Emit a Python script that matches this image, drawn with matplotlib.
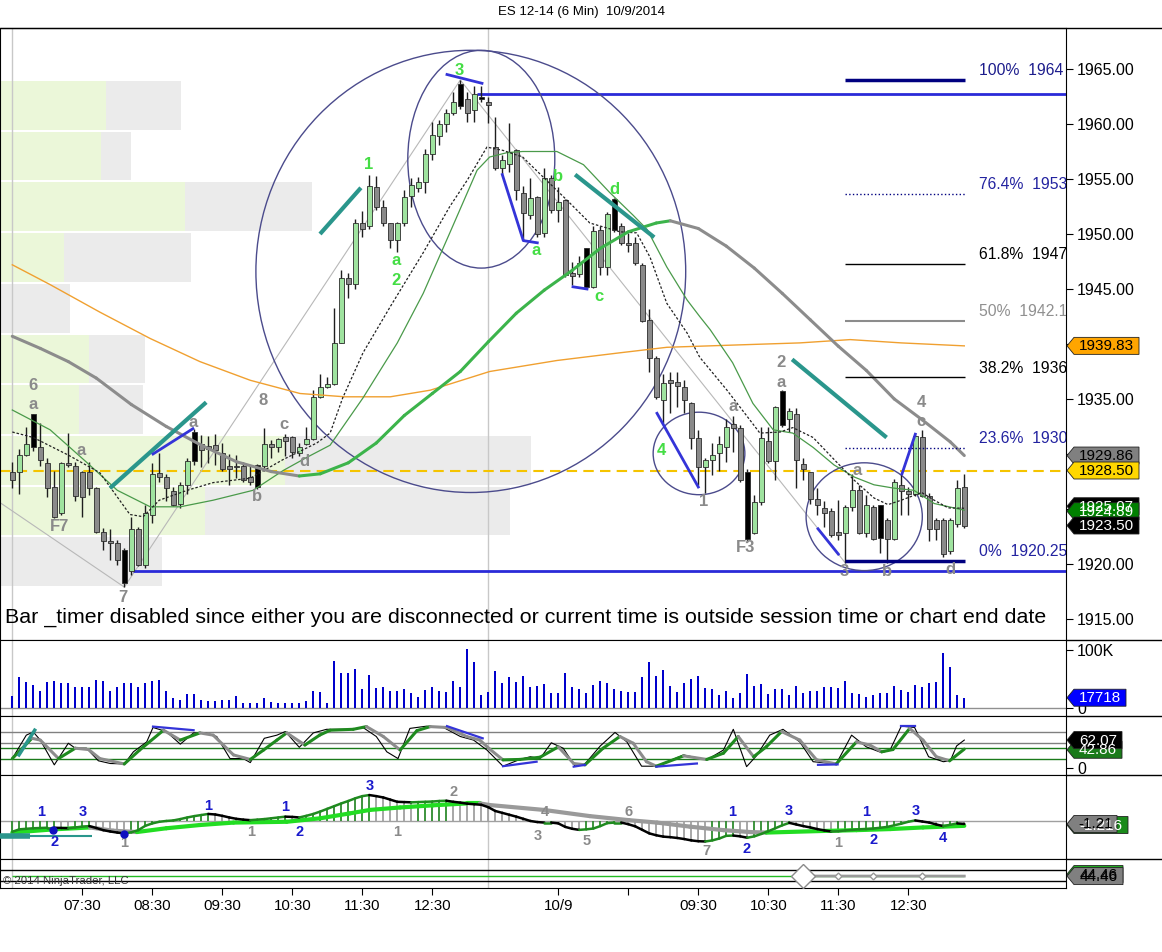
import numpy as np
import matplotlib
matplotlib.use('Agg')
import matplotlib.pyplot as plt
from matplotlib.patches import Ellipse, Polygon
from matplotlib.collections import LineCollection

plt.rcParams['font.family'] = ['Liberation Sans', 'DejaVu Sans']

# ---- price bars (6 min, bar index 0..136) ----
opens = [1928.4, 1928.4, 1929.9, 1933.6, 1930.6, 1929.2, 1927.0, 1924.6, 1929.2, 1928.9,
         1928.4, 1928.4, 1926.9, 1922.9, 1922.1, 1921.9, 1921.3, 1919.4, 1923.2, 1919.9,
         1924.5, 1928.3, 1927.9, 1926.6, 1925.5, 1927.2, 1929.4, 1930.9, 1930.7, 1930.8,
         1930.1, 1928.9, 1928.85, 1928.9, 1927.9, 1929.0, 1928.9, 1930.9, 1930.6, 1931.5,
         1931.5, 1930.1, 1930.9, 1931.4, 1935.2, 1936.1, 1936.4, 1940.1, 1946.0, 1945.5,
         1951.0, 1950.7, 1954.3, 1952.5, 1951.0, 1949.5, 1951.0, 1953.5, 1954.2, 1954.7,
         1957.3, 1958.9, 1960.0, 1961.0, 1961.6, 1962.3, 1961.3, 1962.5, 1962.0, 1957.9,
         1956.0, 1956.4, 1957.6, 1953.7, 1951.7, 1953.4, 1950.1, 1955.1, 1952.2, 1953.1,
         1946.5, 1946.4, 1948.7, 1945.2, 1950.4, 1947.0, 1950.4, 1950.7, 1949.2, 1949.2,
         1947.2, 1942.2, 1938.7, 1934.9, 1936.7, 1936.5, 1936.1, 1934.6, 1931.5, 1928.8,
         1929.5, 1930.1, 1930.6, 1932.7, 1932.4, 1928.4, 1922.8, 1925.6, 1931.2, 1929.4,
         1932.6, 1933.2, 1933.6, 1929.1, 1928.4, 1925.9, 1925.1, 1924.8, 1922.9, 1922.8,
         1925.2, 1926.7, 1922.8, 1925.2, 1925.4, 1924.0, 1922.3, 1927.2, 1926.6, 1926.4,
         1931.5, 1926.2, 1924.0, 1924.0, 1921.2, 1923.6, 1927.0]
highs = [1929.3, 1930.5, 1932.5, 1933.6, 1932.8, 1929.6, 1928.5, 1929.3, 1931.9, 1929.3,
         1928.5, 1929.3, 1927.0, 1923.3, 1923.2, 1922.2, 1921.5, 1924.3, 1923.4, 1925.4,
         1929.2, 1930.1, 1928.2, 1927.0, 1927.5, 1929.6, 1932.3, 1931.7, 1931.6, 1931.8,
         1931.0, 1930.0, 1929.9, 1929.3, 1929.0, 1929.1, 1932.4, 1931.3, 1931.5, 1931.8,
         1931.6, 1931.0, 1932.5, 1935.8, 1937.3, 1937.0, 1943.3, 1946.7, 1946.5, 1951.4,
         1952.1, 1955.4, 1955.3, 1953.1, 1951.0, 1951.1, 1954.0, 1955.1, 1955.2, 1957.7,
         1960.2, 1960.4, 1961.4, 1962.9, 1964.0, 1962.9, 1963.5, 1963.5, 1962.5, 1960.6,
         1957.2, 1960.1, 1957.7, 1954.4, 1955.1, 1953.5, 1956.0, 1955.4, 1954.3, 1953.2,
         1947.5, 1948.0, 1948.7, 1950.7, 1950.7, 1952.0, 1953.3, 1951.0, 1950.1, 1949.7,
         1947.4, 1943.2, 1938.9, 1937.3, 1937.5, 1937.5, 1936.7, 1934.7, 1932.2, 1929.6,
         1931.0, 1931.6, 1933.2, 1933.5, 1932.6, 1928.6, 1926.3, 1932.5, 1932.5, 1934.4,
         1935.8, 1934.2, 1934.2, 1929.6, 1928.4, 1926.9, 1925.7, 1925.1, 1925.8, 1925.4,
         1928.2, 1927.2, 1926.3, 1925.4, 1925.4, 1924.2, 1927.7, 1928.1, 1927.0, 1931.8,
         1932.2, 1926.5, 1924.2, 1924.2, 1924.2, 1927.6, 1928.2]
lows = [1926.9, 1926.4, 1929.8, 1930.3, 1928.9, 1926.1, 1924.2, 1924.5, 1928.8, 1925.7,
        1924.3, 1926.3, 1922.8, 1921.3, 1920.4, 1919.9, 1917.9, 1919.0, 1919.8, 1919.6,
        1923.7, 1927.5, 1925.7, 1925.3, 1925.1, 1926.4, 1929.0, 1928.8, 1929.2, 1929.0,
        1928.5, 1927.2, 1927.8, 1927.5, 1927.2, 1926.8, 1928.5, 1929.6, 1930.2, 1929.8,
        1929.6, 1929.8, 1930.8, 1931.3, 1935.1, 1936.0, 1936.3, 1940.1, 1944.2, 1945.0,
        1949.7, 1950.5, 1952.2, 1950.7, 1948.7, 1948.4, 1950.7, 1952.5, 1953.8, 1953.7,
        1956.7, 1958.1, 1959.3, 1960.8, 1961.4, 1960.2, 1960.2, 1962.0, 1960.1, 1955.8,
        1955.5, 1955.6, 1953.1, 1949.5, 1951.4, 1949.7, 1949.7, 1951.9, 1951.1, 1946.1,
        1945.4, 1946.1, 1945.0, 1945.1, 1946.3, 1946.3, 1950.2, 1949.0, 1948.4, 1947.2,
        1942.0, 1937.5, 1935.0, 1932.8, 1933.7, 1934.3, 1933.7, 1930.5, 1927.2, 1926.5,
        1928.1, 1928.5, 1929.3, 1930.2, 1927.5, 1922.0, 1922.7, 1925.4, 1929.2, 1927.6,
        1932.5, 1932.0, 1926.9, 1927.6, 1925.5, 1924.5, 1923.4, 1922.5, 1922.2, 1920.1,
        1924.8, 1922.7, 1922.5, 1922.2, 1921.0, 1920.1, 1922.2, 1924.5, 1924.5, 1926.2,
        1926.1, 1922.1, 1922.2, 1920.6, 1920.9, 1923.4, 1923.3]
closes = [1927.6, 1929.9, 1930.9, 1930.6, 1929.5, 1926.9, 1924.3, 1929.2, 1929.0, 1926.2,
          1926.1, 1926.9, 1922.9, 1922.1, 1921.9, 1920.4, 1918.3, 1923.2, 1919.9, 1924.6,
          1928.2, 1927.9, 1926.9, 1925.4, 1927.2, 1929.4, 1932.0, 1930.4, 1930.5, 1930.4,
          1928.6, 1928.6, 1928.8, 1927.6, 1927.5, 1927.0, 1930.9, 1930.6, 1931.4, 1931.2,
          1930.2, 1930.6, 1931.4, 1935.2, 1936.1, 1936.4, 1940.1, 1946.0, 1945.5, 1951.0,
          1950.5, 1954.4, 1952.5, 1951.0, 1949.5, 1951.0, 1953.4, 1954.5, 1954.7, 1957.3,
          1959.0, 1960.0, 1961.0, 1962.0, 1963.6, 1961.0, 1962.7, 1962.3, 1961.7, 1956.0,
          1956.7, 1957.5, 1954.0, 1951.9, 1953.3, 1950.0, 1955.1, 1952.2, 1952.9, 1946.3,
          1946.2, 1947.4, 1945.2, 1950.3, 1947.0, 1951.8, 1953.2, 1949.2, 1949.0, 1947.4,
          1942.1, 1938.7, 1935.2, 1936.5, 1936.5, 1936.2, 1934.9, 1931.5, 1928.8, 1929.5,
          1929.9, 1930.9, 1932.5, 1932.4, 1927.6, 1922.3, 1925.6, 1931.5, 1929.4, 1934.3,
          1935.7, 1933.9, 1929.5, 1928.6, 1925.9, 1925.4, 1924.6, 1922.6, 1922.6, 1925.2,
          1926.7, 1922.8, 1925.4, 1922.3, 1922.4, 1922.3, 1927.5, 1926.6, 1926.4, 1931.6,
          1926.2, 1923.2, 1923.2, 1920.9, 1924.0, 1926.9, 1923.5]
black_bars = [3, 16, 26, 35, 64, 67, 82, 86, 105, 110, 124]

volume_k = [21.3, 52.9, 45.4, 40.3, 29.9, 45.4, 47.2, 42.6, 42.6, 35.7,
            35.7, 36.8, 48.3, 47.2, 28.8, 35.7, 43.1, 43.1, 36.8, 42.6,
            47.2, 48.3, 29.9, 17.3, 13.8, 24.2, 24.2, 13.8, 12.7, 12.7,
            13.8, 13.8, 21.3, 8.1, 8.1, 8.1, 17.3, 9.8, 8.1, 8.1,
            8.1, 8.1, 12.7, 29.9, 27.0, 8.1, 81.7, 60.4, 60.4, 67.3,
            32.8, 57.5, 33.9, 35.7, 29.9, 29.9, 32.8, 25.3, 19.6, 31.1,
            36.8, 29.9, 27.0, 47.2, 36.8, 101.8, 79.9, 23.0, 28.2, 64.4,
            42.6, 54.1, 45.4, 55.8, 36.8, 38.5, 41.4, 25.9, 25.9, 60.4,
            36.8, 32.8, 25.9, 39.7, 47.2, 42.6, 32.8, 29.9, 27.0, 28.2,
            54.1, 79.9, 55.8, 65.6, 38.5, 28.2, 42.6, 50.0, 55.8, 34.5,
            32.8, 23.0, 29.9, 17.3, 25.9, 58.7, 38.5, 41.4, 24.2, 32.8,
            32.8, 23.0, 38.5, 25.9, 29.9, 29.9, 35.7, 35.7, 34.5, 47.2,
            25.9, 24.2, 19.6, 22.4, 25.9, 25.9, 38.5, 31.1, 27.0, 40.3,
            36.8, 42.6, 44.3, 94.3, 71.3, 23.0, 17.7]

macd = [-4.1, -3.2, -3.0, -2.8, -2.7, -2.6, -2.6, -2.7, -2.8, -2.5,
        -2.2, -2.0, -2.7, -3.5, -4.0, -4.4, -4.7, -4.3, -3.5, -1.9,
        -1.0, -0.4, -0.1, 0.1, 0.6, 1.2, 1.7, 2.1, 2.5, 2.3,
        1.8, 1.2, 0.7, 0.4, 0.2, 0.4, 0.6, 0.9, 1.2, 1.5,
        1.4, 1.2, 1.8, 2.5, 3.4, 4.4, 5.4, 6.4, 7.3, 8.3,
        9.1, 9.5, 9.1, 8.6, 7.8, 7.0, 6.9, 6.8, 6.9, 7.0,
        7.1, 7.3, 7.4, 7.0, 6.7, 6.3, 6.1, 5.9, 5.0, 3.6,
        2.9, 2.2, 1.5, 0.7, -0.1, -0.5, -0.7, -0.7, -1.0, -2.3,
        -3.0, -3.4, -3.2, -2.9, -2.0, -0.9, -0.7, -0.7, -1.3, -2.1,
        -3.4, -4.7, -5.4, -5.9, -6.1, -6.4, -6.8, -7.3, -7.6, -7.7,
        -7.3, -6.6, -5.6, -5.5, -5.8, -6.3, -5.8, -4.9, -3.9, -2.8,
        -1.7, -0.8, -1.4, -2.0, -2.5, -3.1, -3.6, -4.0, -3.9, -3.6,
        -3.4, -3.2, -3.1, -2.9, -2.6, -2.3, -1.7, -1.1, -0.4, 0.1,
        -0.3, -0.7, -1.4, -2.0, -1.5, -1.0, -1.21]

# ---- moving averages read at points (bar index, price) ----
ma_slow_thick = [(0, 1940.7), (4, 1939.6), (8, 1938.4), (12, 1936.9), (17, 1934.5), (22, 1932.5),
                 (27, 1930.8), (32, 1929.3), (37, 1928.4), (41, 1928.0), (44, 1928.2), (48, 1929.2),
                 (52, 1931.0), (56, 1933.5), (60, 1935.5), (64, 1937.5), (68, 1940.2), (72, 1942.8),
                 (76, 1944.9), (80, 1946.7), (84, 1948.7), (88, 1950.2), (92, 1951.0), (94, 1951.2),
                 (98, 1950.5), (102, 1948.9), (106, 1946.9), (110, 1944.6), (114, 1942.2),
                 (118, 1939.8), (122, 1937.6), (126, 1935.0), (130, 1933.1), (134, 1931.1), (136, 1929.86)]
ma_orange = [(0, 1947.2), (5.4, 1945.4), (12.5, 1942.9), (19.7, 1940.5), (26.8, 1938.4), (34, 1936.7),
             (41.1, 1935.5), (47.5, 1935.2), (54, 1935.2), (59.7, 1935.8), (68.2, 1937.5), (77.8, 1938.5),
             (86.8, 1939.2), (93.5, 1939.7), (102.9, 1939.9), (112.5, 1940.1), (119.7, 1940.4),
             (127, 1940.1), (136, 1939.83)]
ma_fast_dotted = [(0, 1932.0), (3, 1931.5), (8, 1929.9), (12.5, 1928.3), (16.8, 1924.5), (18.7, 1924.3),
                  (21, 1925.8), (25, 1926.7), (28.7, 1927.4), (34, 1927.8), (38.7, 1929.5), (43.5, 1931.0),
                  (45.4, 1931.9), (47.2, 1935.1), (50.1, 1939.2), (54, 1943.4), (58.7, 1948.3),
                  (62.5, 1952.5), (65, 1954.9), (67.8, 1957.9), (70.1, 1957.6), (72.9, 1957.0),
                  (75.8, 1955.2), (79.2, 1953.1), (82.5, 1951.0), (86.8, 1950.2), (89.2, 1950.1),
                  (91.1, 1947.9), (93.5, 1943.7), (96.4, 1941.0), (98.2, 1938.8), (102.1, 1935.8),
                  (105, 1933.4), (106.8, 1931.9), (109.7, 1932.0), (111.5, 1932.4), (114.4, 1931.5),
                  (117.4, 1929.5), (120.3, 1927.6), (123.1, 1926.0), (125.1, 1925.4), (127, 1925.8),
                  (129.9, 1926.5), (131.7, 1925.8), (133.7, 1925.1), (136, 1925.07)]
ma_fast_green = [(0, 1934.0), (5.4, 1932.2), (10.7, 1929.2), (15, 1926.7), (19.7, 1925.2), (24, 1925.2),
                 (28.7, 1925.8), (34.4, 1926.7), (38.7, 1928.5), (42.1, 1929.7), (45.4, 1930.8),
                 (50.1, 1935.1), (55, 1940.1), (58.7, 1944.6), (62.5, 1950.1), (66.4, 1955.8),
                 (68.2, 1957.0), (70.7, 1957.4), (72.9, 1957.5), (77.8, 1957.5), (81.6, 1956.3),
                 (85.3, 1953.8), (88.7, 1951.7), (90.7, 1950.4), (93.5, 1947.0), (96.4, 1944.0),
                 (98.2, 1942.5), (99.7, 1941.3), (102.9, 1938.3), (105.8, 1934.6), (108.7, 1932.2),
                 (111.5, 1931.9), (114.4, 1930.6), (117.4, 1929.0), (120.3, 1927.9), (123.1, 1927.2),
                 (125.9, 1926.9), (128.8, 1926.7), (131.7, 1925.5), (136, 1924.89)]
zigzag = [(-1.8, 1925.6), (16, 1917.9), (64, 1964.0), (119, 1920.1)]

# volume profile rows (top row first), widths in K contracts
profile_high, profile_low = 1964.0, 1917.9
profile_up = [106, 101, 185, 64, 0, 89, 79, 285, 205, 0]
profile_down = [75, 30, 127, 127, 70, 56, 64, 246, 305, 162]

# fib retracement
fib_high, fib_low = 1964.0, 1920.25
fib_ratios = [1.0, 0.764, 0.618, 0.5, 0.382, 0.236, 0.0]
fib_start, fib_end = 119, 136.1
prior_high, prior_low = 1962.75, 1919.4
prior_high_from, prior_low_from = 66.4, 17.2
pivot_level = 1928.5

# drawn circles: center bar, center price, width (bars), height (points)
circles = [(65.5, 1946.6, 61.4, 40.2), (67.0, 1956.8, 21.0, 19.8),
           (98.1, 1930.05, 13.1, 7.5), (121.7, 1924.3, 16.6, 9.8)]
teal_lines = [((13.96, 1926.9), (27.7, 1934.7)), ((43.96, 1950.0), (49.8, 1954.2)),
              ((80.4, 1955.4), (91.7, 1949.7)), ((111.4, 1938.6), (124.9, 1931.5))]
blue_lines = [[(20.1, 1930.0), (25.8, 1932.3)], [(62.1, 1964.5), (67.1, 1963.7)],
              [(70.0, 1955.4), (73.0, 1949.4), (75.0, 1949.2)], [(80.1, 1945.2), (82.1, 1945.0)],
              [(92.1, 1933.7), (98.0, 1927.0)], [(115.1, 1923.2), (118.0, 1920.9)],
              [(127.1, 1928.2), (129.0, 1931.8)]]
gray_labels = [("6", 2.96, 1936.2), ("a", 2.96, 1934.5), ("a", 9.8, 1930.3), ("F7", 6.8, 1923.4),
               ("7", 15.8, 1917.0), ("a", 25.8, 1932.9), ("8", 35.8, 1934.9), ("c", 38.8, 1932.7),
               ("b", 34.96, 1926.1), ("d", 41.8, 1929.3), ("1", 98.8, 1925.7), ("a", 102.96, 1934.3),
               ("F3", 104.8, 1921.5), ("2", 109.8, 1938.3), ("a", 109.8, 1936.5), ("a", 120.7, 1928.5),
               ("3", 118.8, 1919.3), ("b", 124.96, 1919.3), ("4", 129.8, 1934.7), ("c", 129.8, 1933.0),
               ("d", 133.96, 1919.5)]
green_labels = [("1", 50.96, 1956.3), ("a", 54.8, 1947.6), ("2", 54.8, 1945.8), ("3", 63.8, 1964.9),
                ("a", 74.8, 1948.5), ("b", 77.96, 1955.2), ("c", 83.8, 1944.3), ("d", 85.96, 1954.0),
                ("4", 92.7, 1930.3)]

# stochastics (vertices)
stoch_fast = [(0, 21), (2, 73), (3, 80), (4, 62), (6, 7), (8, 55), (9, 44), (10.6, 44), (12.3, 16),
              (14, 10), (16, 9), (17.3, 36), (19.2, 58), (20.1, 90), (22, 81), (24, 53), (25.9, 78),
              (27.8, 77), (29.2, 70), (31.1, 21), (33, 21), (34, 12), (36, 66), (37.8, 73), (39, 81),
              (41, 46), (43, 78), (44.9, 86), (48.7, 86), (50.1, 90), (52, 70), (53.5, 36), (55.1, 21),
              (56.8, 88), (59.2, 93), (61.6, 90), (64, 70), (65.9, 62), (67.8, 40), (70.1, 4),
              (72.5, 19), (74, 25), (75.4, 21), (77, 56), (78.7, 44), (80.4, 4), (81.8, 9), (84, 49),
              (86.1, 79), (87.8, 58), (89.9, 4), (92, 4), (95.9, 29), (99.2, 18), (101.6, 40), (103, 86),
              (104.9, 3), (106.3, 27), (108.2, 73), (110.1, 86), (112.5, 58), (114.4, 14), (117.7, 9),
              (119.9, 73), (122, 47), (124.2, 34), (125.4, 40), (127, 93), (128.9, 90), (130.9, 25),
              (133, 14), (134, 16), (134.9, 49), (136, 62.07)]
stoch_slow = [(0, 21), (2.8, 66), (4, 62), (6.6, 21), (9, 44), (10.9, 41), (12.5, 21), (16, 9),
              (18.2, 40), (21.6, 84), (24, 62), (26.8, 78), (28.7, 73), (31.6, 29), (34, 19), (35.9, 40),
              (37.8, 62), (39.2, 78), (41.8, 51), (43.9, 73), (45.4, 84), (48.7, 86), (50.6, 92), (53, 70),
              (55.4, 40), (57.8, 83), (59.7, 92), (62.1, 90), (64.9, 70), (66.8, 62), (68.2, 42),
              (70.1, 18), (72.5, 19), (75.4, 24), (78, 47), (80.2, 10), (81.8, 7), (84.4, 44), (86.8, 70),
              (88.7, 55), (90.6, 14), (92, 4), (95.9, 27), (99.2, 19), (101.6, 33), (103.7, 70),
              (105.9, 25), (107.7, 47), (109.9, 81), (112.5, 62), (114.9, 18), (117.7, 9), (120.6, 58),
              (122.5, 51), (124.2, 36), (125.8, 41), (128.2, 88), (130.1, 62), (132, 25), (133.9, 16),
              (136, 42)]
stoch_levels = [80, 55, 45, 20]
stoch_blue = [[(20.1, 92), (25.9, 84)], [(62.1, 93), (67.2, 66)], [(70.1, 4), (74.9, 14)],
              [(80.2, 3), (81.8, 7)], [(92, 3), (97.8, 10)], [(115.1, 7), (117.9, 8)], [(127, 93), (128.9, 93)]]
stoch_teal = [(0.95, 29), (3.2, 84)]

macd_signal = [(0, -4.4), (5.9, -3.2), (11.1, -2.5), (14.4, -3.7), (17.8, -4.2), (22, -2.8), (26.8, -1.6),
               (31.6, -0.7), (39.2, -0.4), (44, 0.9), (48.2, 2.7), (51.1, 4.0), (55.4, 4.9), (60.1, 5.7),
               (64.9, 6.4), (66.8, 6.4), (68.2, 5.8), (75.9, 4.0), (82.5, 1.7), (88.1, 0.2), (92.1, -0.7),
               (96.8, -2.2), (101.6, -3.5), (105.4, -4.2), (107.7, -4.4), (115.8, -3.8), (120.6, -3.5),
               (125.4, -3.1), (130.1, -2.5), (136, -1.9)]
macd_blue_labels = [("1", 4.1, 3.2), ("3", 10, 3.2), ("2", 6, -7.9), ("1", 28, 5.4), ("1", 39, 5.1),
                    ("2", 41, -4.2), ("3", 51, 12.9), ("2", 104.9, -10.5), ("1", 102.9, 3.2),
                    ("3", 110.9, 3.6), ("1", 122, 3.2), ("2", 123, -7.2), ("3", 129.1, 3.6), ("4", 132.9, -6.4)]
macd_gray_labels = [("1", 16, -8.3), ("1", 34.1, -4.2), ("1", 55, -4.2), ("2", 63, 10.6), ("4", 76.1, 3.2),
                    ("3", 75.1, -5.7), ("6", 88, 3.2), ("5", 82.1, -7.5), ("7", 99.1, -11.2), ("1", 118, -8.3)]
macd_dots = [(5.8, -3.4), (16, -4.9)]
macd_teal_level = -5.7

# bottom oscillator
osc_green = 44.2
osc_trend_k = [113, 118, 123, 130, 136]
osc_trend = [44.5, 44.5, 44.5, 44.5, 44.46]
osc_levels = [50, 40]

session_breaks = [0, 68]
tick_bars = [10, 20, 30, 40, 50, 60, 78, 88, 98, 108, 118, 128]
tick_names = ['07:30', '08:30', '09:30', '10:30', '11:30', '12:30', '10/9', '', '09:30', '10:30', '11:30', '12:30']

# ---- figure ----
W, H = 1162, 952
fig = plt.figure(figsize=(W / 100, H / 100), dpi=100)
XMIN, XMAX = -12.3 / 7, (1066 - 12.3) / 7


def panel(top, bottom):
    a = fig.add_axes([0, 1 - bottom / H, 1066 / W, (bottom - top) / H])
    a.set_xlim(XMIN, XMAX)
    a.yaxis.tick_right()
    a.tick_params(axis='x', bottom=False, labelbottom=False)
    a.tick_params(axis='y', length=5, labelsize=11.5, pad=3)
    for s in a.spines.values():
        s.set_color('black')
    for b in session_breaks:
        a.axvline(b, color='#c8c8c8', lw=1, zorder=0.5)
    return a


def slope_line(a, pts, up, down, lw, z):
    pts = np.asarray(pts, float)
    segs = np.stack([pts[:-1], pts[1:]], axis=1)
    cols = [up if s[1, 1] >= s[0, 1] else down for s in segs]
    a.add_collection(LineCollection(segs, colors=cols, linewidths=lw, zorder=z, capstyle='round'))


def fib_value(v):
    return ('%.2f' % v).rstrip('0').rstrip('.')


ax = panel(28, 640)
axv = panel(640, 716)
axs = panel(716, 775)
axm = panel(775, 859)
axb = panel(859, 888)

# main price panel
ax.set_ylim(1965 - 571 / 11, 1965 + 41 / 11)
ax.set_yticks(np.arange(1915, 1966, 5))
ax.set_yticklabels([f'{v:.2f}' for v in np.arange(1915, 1966, 5)])

row_h = (profile_high - profile_low) / len(profile_up)
for r in range(len(profile_up)):
    yc = profile_high - row_h * (r + 0.5)
    ax.barh(yc, profile_up[r] / 7, left=XMIN, height=row_h * 0.96, color='#ebf7d9', zorder=0)
    ax.barh(yc, profile_down[r] / 7, left=XMIN + profile_up[r] / 7, height=row_h * 0.96,
            color='#ebebeb', zorder=0)

ax.axhline(pivot_level, color='#f5c400', lw=1.5, ls=(0, (5, 3)), zorder=1)
ax.hlines(prior_high, prior_high_from, XMAX, color='#2a2ad8', lw=2, zorder=2)
ax.hlines(prior_low, prior_low_from, XMAX, color='#2a2ad8', lw=2, zorder=2)

zz = np.array(zigzag)
ax.plot(zz[:, 0], zz[:, 1], color='#b8b8b8', lw=0.8, zorder=1.5)

for cx, cy, cw, ch in circles:
    ax.add_patch(Ellipse((cx, cy), cw, ch, fill=False, ec='#4b4b8c', lw=1, zorder=2))

# candles
idx = np.arange(len(opens))
o, h, l, c = map(np.array, (opens, highs, lows, closes))
face = np.where(c >= o, '#9fe39f', '#8a8a8a').astype(object)
face[black_bars] = 'black'
ax.vlines(idx, l, h, color='#1e1e1e', lw=1, zorder=3)
ax.bar(idx, np.maximum(np.abs(c - o), 0.15), bottom=np.minimum(o, c), width=0.72,
       color=list(face), edgecolor='#2b2b2b', linewidth=0.6, zorder=3.5)

o_pts = np.array(ma_orange)
ax.plot(o_pts[:, 0], o_pts[:, 1], color='#f0a030', lw=1, zorder=4)
g_pts = np.array(ma_fast_green)
ax.plot(g_pts[:, 0], g_pts[:, 1], color='#4a9a4a', lw=0.9, zorder=4)
d_pts = np.array(ma_fast_dotted)
ax.plot(d_pts[:, 0], d_pts[:, 1], color='#222222', lw=0.9, ls=(0, (2, 1.5)), zorder=4)
slope_line(ax, ma_slow_thick, '#3cb44b', '#8c8c8c', 2.2, 4.2)

for (x0, y0), (x1, y1) in teal_lines:
    ax.plot([x0, x1], [y0, y1], color='#2a968c', lw=3, zorder=5, solid_capstyle='butt')
for seg in blue_lines:
    s = np.array(seg)
    ax.plot(s[:, 0], s[:, 1], color='#3434d8', lw=2, zorder=5)

for t, k, p in gray_labels:
    ax.text(k, p, t, color='#8a8a8a', fontsize=12, fontweight='bold', ha='center', va='center', zorder=6)
for t, k, p in green_labels:
    ax.text(k, p, t, color='#44dd44', fontsize=12, fontweight='bold', ha='center', va='center', zorder=6)

# fib levels
fib_style = {1.0: ('#000080', 2.5, '-'), 0.764: ('#000080', 1, ':'), 0.618: ('black', 1, '-'),
             0.5: ('#8c8c8c', 1.5, '-'), 0.382: ('black', 1, '-'), 0.236: ('#000080', 1, ':'),
             0.0: ('#000080', 2.5, '-')}
fib_text = {1.0: '#1c1c8c', 0.764: '#2323a0', 0.618: 'black', 0.5: '#909090', 0.382: 'black',
            0.236: '#2323a0', 0.0: '#2323a0'}
for r in fib_ratios:
    lvl = fib_low + r * (fib_high - fib_low)
    col, lw, ls = fib_style[r]
    ax.hlines(lvl, fib_start, fib_end, color=col, lw=lw, ls=ls, zorder=5)
    ax.text(138.1, lvl + 0.85, f'{r * 100:g}%  {fib_value(lvl)}', color=fib_text[r], fontsize=11.3,
            ha='left', va='center', clip_on=True, zorder=6)

ax.text(5 / 1066, (640 - 617) / 612, 'Bar _timer disabled since either you are disconnected or current '
        'time is outside session time or chart end date', transform=ax.transAxes, fontsize=15.4,
        ha='left', va='center', zorder=7)

# volume panel
axv.set_ylim(-8 / 58 * 100, 100 + 10 / 58 * 100)
axv.bar(idx, volume_k, width=0.3, color='#0000cc', zorder=3)
axv.axhline(0, color='#909090', lw=1, zorder=2)
axv.set_yticks([0, 100])
axv.set_yticklabels(['0', '100K'])

# stochastics panel
axs.set_ylim(-7 / 0.45, 52 / 0.45)
for lv, col in zip(stoch_levels, ['#808080', '#808080', '#1a7a1a', '#1a7a1a']):
    axs.axhline(lv, color=col, lw=1, zorder=1)
sf = np.array(stoch_fast)
axs.plot(sf[:, 0], sf[:, 1], color='black', lw=0.8, zorder=3)
slope_line(axs, stoch_slow, '#1f8a1f', '#8c8c8c', 2.2, 4)
for seg in stoch_blue:
    s = np.array(seg)
    axs.plot(s[:, 0], s[:, 1], color='#3434d8', lw=1.6, zorder=5)
st = np.array(stoch_teal)
axs.plot(st[:, 0], st[:, 1], color='#2a968c', lw=2.5, zorder=5)
axs.set_yticks([0])

# MACD panel
axm.set_ylim((820.7 - 859) / 2.7, (820.7 - 775) / 2.7)
axm.axhline(0, color='#a0a0a0', lw=1, zorder=1)
m = np.array(macd)
rising = np.r_[True, m[1:] >= m[:-1]]
axm.vlines(idx, 0, m, colors=np.where(rising, '#2e8b2e', '#a0a0a0'), lw=1.3, zorder=2)
slope_line(axm, macd_signal, '#22dd22', '#9a9a9a', 3, 3)
slope_line(axm, np.column_stack([idx, m]), '#1f8a1f', 'black', 1.8, 4)
axm.hlines(macd_teal_level, XMIN, 11.4, color='#2a968c', lw=1.5, zorder=4)
axm.hlines(macd_teal_level, XMIN, 2.5, color='#2a968c', lw=4, zorder=4)
for t, k, v in macd_blue_labels:
    axm.text(k, v, t, color='#1a1acc', fontsize=10.5, fontweight='bold', ha='center', va='center', zorder=6)
for t, k, v in macd_gray_labels:
    axm.text(k, v, t, color='#8a8a8a', fontsize=10.5, fontweight='bold', ha='center', va='center', zorder=6)
md = np.array(macd_dots)
axm.plot(md[:, 0], md[:, 1], 'o', color='#1010c0', ms=5, zorder=6)
axm.set_yticks([])

# bottom oscillator panel
axb.set_ylim(40 - 7 / 1.1, 50 + 11 / 1.1)
for lv in osc_levels:
    axb.axhline(lv, color='black', lw=1, zorder=1)
axb.hlines(osc_green, 0, 136, color='#22bb22', lw=1, zorder=2)
axb.plot(osc_trend_k, osc_trend, color='#9a9a9a', lw=2, zorder=3)
axb.plot(osc_trend_k[1:-1], osc_trend[1:-1], 'D', ms=3.5, mfc='white', mec='#9a9a9a', zorder=4)
axb.plot(osc_trend_k[0], osc_trend[0], 'D', ms=12, mfc='white', mec='#8a8a8a', mew=1, zorder=4)
axb.set_yticks([])
axb.set_xticks(tick_bars)
axb.set_xticklabels(tick_names)
axb.tick_params(axis='x', bottom=True, labelbottom=True, length=5, labelsize=10.8, pad=3)

fig.text(581 / W, 1 - 12 / H, 'ES 12-14 (6 Min)  10/9/2014', ha='center', va='center', fontsize=9.5)
fig.text(3 / W, 1 - 881 / H, '\u00a9 2014 NinjaTrader, LLC', ha='left', va='center', fontsize=8.2,
         color='#333333', zorder=10)

# ---- value tags on the right scale ----
ov = fig.add_axes([0, 0, 1, 1], zorder=20)
ov.set_xlim(0, W)
ov.set_ylim(H, 0)
ov.axis('off')
for yy in [28, 640, 716, 775, 859]:
    ov.hlines(yy, 0 if yy == 28 else 1066, W, color='black', lw=1)


def tag(a, val, text, fc, tc, w=72, dy=0):
    ypx = H - a.transData.transform((0, val))[1] + dy
    x0, hh = 1067, 17
    pts = [(x0, ypx), (x0 + 7, ypx - hh / 2), (x0 + w, ypx - hh / 2), (x0 + w, ypx + hh / 2),
           (x0 + 7, ypx + hh / 2)]
    ov.add_patch(Polygon(pts, closed=True, fc=fc, ec='#222222', lw=0.6))
    ov.text(x0 + 7 + (w - 7) / 2, ypx + 0.5, text, color=tc, ha='center', va='center', fontsize=11)


tag(ax, 1939.83, '1939.83', '#ffa500', 'black')
tag(ax, 1929.86, '1929.86', '#808080', 'black')
tag(ax, pivot_level, '1928.50', '#ffd700', 'black')
tag(ax, 1925.07, '1925.07', 'black', 'white', dy=-2)
tag(ax, 1924.89, '1924.89', '#008000', 'white', dy=1)
tag(ax, 1923.50, '1923.50', 'black', 'white')
tag(axv, 17.718, '17718', '#0000ff', 'white', w=59)
tag(axs, 40.5, '42.86', '#1a7a1a', 'white', w=55)
tag(axs, 62.07, '62.07', 'black', 'white', w=55)
tag(axm, -1.6, '-1.216', '#1a8a1a', 'white', w=61)
tag(axm, -1.21, '-1.21', '#808080', 'black', w=50)
tag(axb, 46.3, '44.46', '#22aa22', 'black', w=56)
tag(axb, 44.46, '44.46', '#808080', 'black', w=56)

fig.savefig('out.png', dpi=100)
